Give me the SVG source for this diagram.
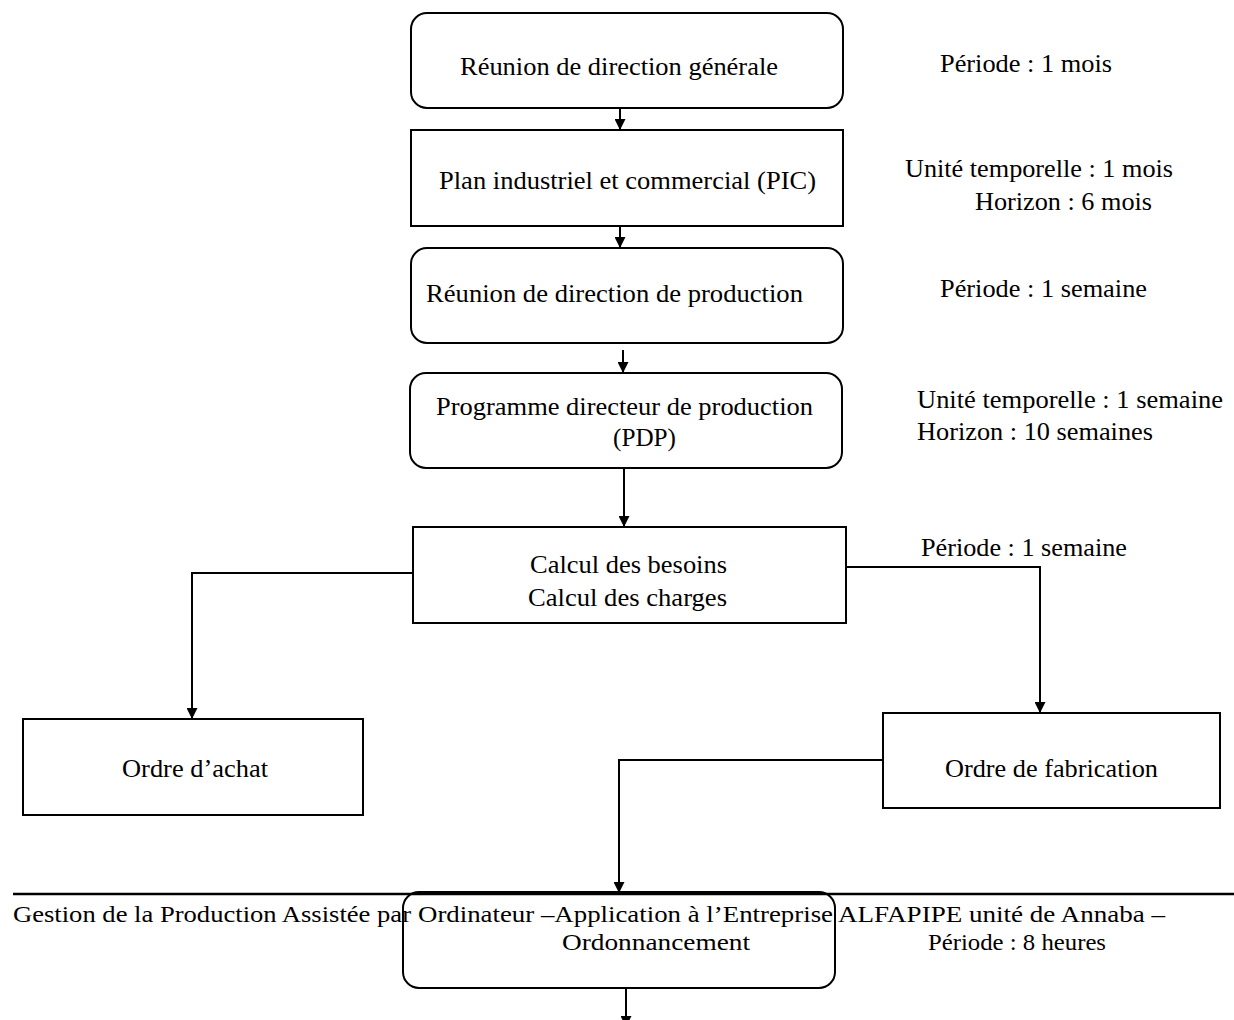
<svg xmlns="http://www.w3.org/2000/svg" width="1234" height="1020" viewBox="0 0 1234 1020">
  <style>
    .box { fill: #fff; stroke: #000; stroke-width: 2; }
    .open { fill: none; stroke: #000; stroke-width: 2; }
    .wire { fill: none; stroke: #000; stroke-width: 2; }
    text { font-family: "Liberation Serif", "Times New Roman", serif; font-size: 26px; fill: #000; }
    .foot { font-size: 24px; }
  </style>
  <defs>
    <marker id="arrow" viewBox="0 0 10 10" refX="10" refY="5" markerWidth="11" markerHeight="11" markerUnits="userSpaceOnUse" orient="auto">
      <path d="M0,0 L10,5 L0,10 Z" fill="#000"/>
    </marker>
  </defs>

  <rect width="1234" height="1020" fill="#fff"/>

  <!-- footer rule and running title -->
  <g id="footer">
    <line x1="13" y1="894" x2="1234" y2="894" stroke="#000" stroke-width="2.5"/>
    <text class="foot" y="922"><tspan x="13" textLength="398" lengthAdjust="spacingAndGlyphs">Gestion de la Production Assistée par</tspan><tspan x="418" textLength="415" lengthAdjust="spacingAndGlyphs">Ordinateur –Application à l’Entreprise</tspan><tspan x="838" textLength="327" lengthAdjust="spacingAndGlyphs">ALFAPIPE unité de Annaba –</tspan></text>
  </g>

  <!-- connectors -->
  <g id="connectors">
    <line class="wire" x1="620" y1="108" x2="620" y2="130" marker-end="url(#arrow)"/>
    <line class="wire" x1="620" y1="226" x2="620" y2="248" marker-end="url(#arrow)"/>
    <line class="wire" x1="623" y1="350" x2="623" y2="373" marker-end="url(#arrow)"/>
    <line class="wire" x1="624" y1="468" x2="624" y2="527" marker-end="url(#arrow)"/>
    <polyline class="wire" points="413,573 192,573 192,719" marker-end="url(#arrow)"/>
    <polyline class="wire" points="846,567 1040,567 1040,713" marker-end="url(#arrow)"/>
    <polyline class="wire" points="883,760 619,760 619,893" marker-end="url(#arrow)"/>
    <line class="wire" x1="626" y1="988" x2="626" y2="1027" marker-end="url(#arrow)"/>
  </g>

  <g id="reunion-direction-generale">
    <rect class="box" x="411" y="13" width="432" height="95" rx="16"/>
    <text x="460" y="75" textLength="318" lengthAdjust="spacingAndGlyphs">Réunion de direction générale</text>
  </g>
  <text x="940" y="72" textLength="172" lengthAdjust="spacingAndGlyphs">Période : 1 mois</text>

  <g id="pic">
    <rect class="box" x="411" y="130" width="432" height="96"/>
    <text x="439" y="189" textLength="377" lengthAdjust="spacingAndGlyphs">Plan industriel et commercial (PIC)</text>
  </g>
  <text x="905" y="177" textLength="268" lengthAdjust="spacingAndGlyphs">Unité temporelle : 1 mois</text>
  <text x="975" y="210" textLength="177" lengthAdjust="spacingAndGlyphs">Horizon : 6 mois</text>

  <g id="reunion-direction-production">
    <rect class="box" x="411" y="248" width="432" height="95" rx="16"/>
    <text x="426" y="302" textLength="377" lengthAdjust="spacingAndGlyphs">Réunion de direction de production</text>
  </g>
  <text x="940" y="297" textLength="207" lengthAdjust="spacingAndGlyphs">Période : 1 semaine</text>

  <g id="pdp">
    <rect class="box" x="410" y="373" width="432" height="95" rx="16"/>
    <text x="436" y="415" textLength="377" lengthAdjust="spacingAndGlyphs">Programme directeur de production</text>
    <text x="613" y="446" textLength="63" lengthAdjust="spacingAndGlyphs">(PDP)</text>
  </g>
  <text x="917" y="408" textLength="306" lengthAdjust="spacingAndGlyphs">Unité temporelle : 1 semaine</text>
  <text x="917" y="440" textLength="236" lengthAdjust="spacingAndGlyphs">Horizon : 10 semaines</text>

  <g id="calcul">
    <rect class="box" x="413" y="527" width="433" height="96"/>
    <text x="530" y="573" textLength="197" lengthAdjust="spacingAndGlyphs">Calcul des besoins</text>
    <text x="528" y="606" textLength="199" lengthAdjust="spacingAndGlyphs">Calcul des charges</text>
  </g>
  <text x="921" y="556" textLength="206" lengthAdjust="spacingAndGlyphs">Période : 1 semaine</text>

  <g id="ordre-achat">
    <rect class="box" x="23" y="719" width="340" height="96"/>
    <text x="122" y="777" textLength="146" lengthAdjust="spacingAndGlyphs">Ordre d’achat</text>
  </g>

  <g id="ordre-fabrication">
    <rect class="box" x="883" y="713" width="337" height="95"/>
    <text x="945" y="777" textLength="213" lengthAdjust="spacingAndGlyphs">Ordre de fabrication</text>
  </g>

  <g id="ordonnancement">
    <rect class="open" x="403" y="892" width="432" height="96" rx="16"/>
    <text class="foot" x="562" y="950" textLength="188" lengthAdjust="spacingAndGlyphs">Ordonnancement</text>
  </g>
  <text class="foot" x="928" y="950" textLength="178" lengthAdjust="spacingAndGlyphs">Période : 8 heures</text>
</svg>
